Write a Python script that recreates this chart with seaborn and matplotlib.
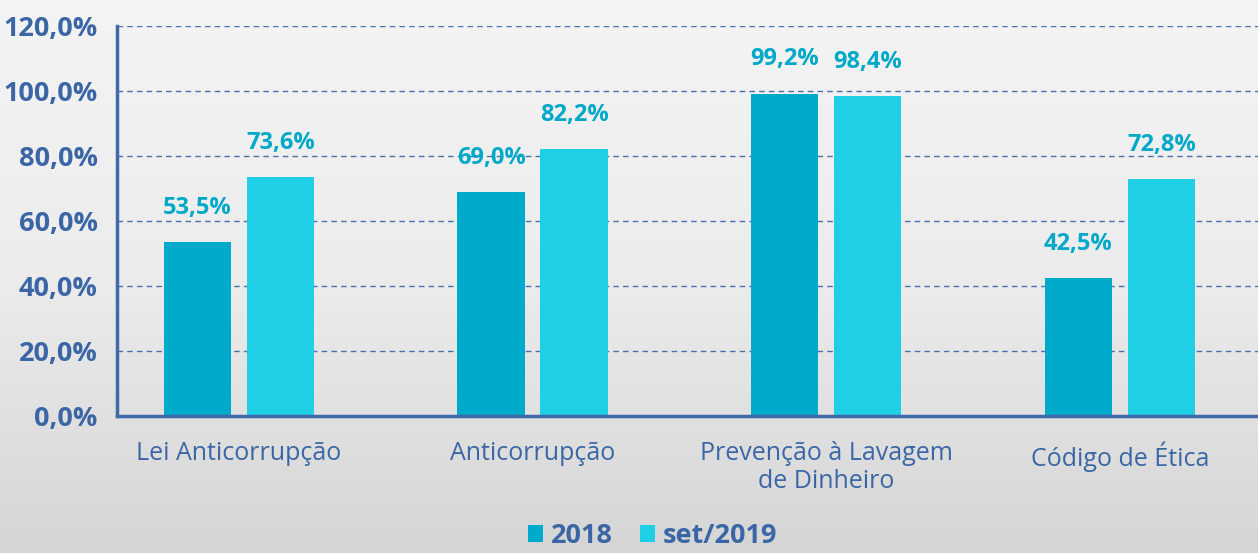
import numpy as np
import pandas as pd
import matplotlib
matplotlib.use("Agg")
import matplotlib.pyplot as plt
import seaborn as sns
from matplotlib.colors import LinearSegmentedColormap

categories = ["Lei Anticorrupção", "Anticorrupção", "Prevenção à Lavagem\nde Dinheiro", "Código de Ética"]
series = ["2018", "set/2019"]
values_2018 = [53.5, 69.0, 99.2, 42.5]
values_2019 = [73.6, 82.2, 98.4, 72.8]
yticks = [0, 20, 40, 60, 80, 100, 120]

colors = {"2018": "#00AACB", "set/2019": "#1ECFE6"}
text_blue = "#3A66A6"
label_teal = "#00A9C9"

df = pd.DataFrame({
    "categoria": categories * 2,
    "serie": [series[0]] * 4 + [series[1]] * 4,
    "valor": values_2018 + values_2019,
})

sns.set_theme(style="white")
plt.rcParams["font.family"] = ["Open Sans", "DejaVu Sans"]

fig = plt.figure(figsize=(12.58, 5.53), dpi=100)
# background gradient
bg = fig.add_axes([0, 0, 1, 1], zorder=-10)
grad = np.linspace(0, 1, 256).reshape(-1, 1)
cmap = LinearSegmentedColormap.from_list("bg", ["#f4f4f4", "#ececec", "#d5d5d5"])
bg.imshow(grad, aspect="auto", cmap=cmap, extent=[0, 1, 0, 1])
bg.axis("off")

ax = fig.add_axes([117 / 1258, 1 - 416 / 553, 1 - 117 / 1258, 390 / 553])
ax.patch.set_alpha(0)

sns.barplot(data=df, x="categoria", y="valor", hue="serie", order=categories,
            hue_order=series, palette=colors, width=0.565, gap=0.19,
            saturation=1, ax=ax, legend=True, linewidth=0)

ax.set_ylim(0, 120)
ax.set_xlim(-0.415, 3.47)
ax.set_yticks(yticks)
ax.set_yticklabels([f"{v:.1f}".replace(".", ",") + "%" for v in yticks],
                   fontsize=19.5, fontweight="bold", color=text_blue)
ax.tick_params(axis="y", length=0, pad=14)
ax.tick_params(axis="x", length=0, pad=18, labelsize=18, labelcolor=text_blue)
for lbl in ax.get_xticklabels():
    lbl.set_color(text_blue)
    lbl.set_linespacing(1.15)
ax.set_xlabel("")
ax.set_ylabel("")

ax.yaxis.grid(True, linestyle=(0, (4, 3)), color="#4a70b0", linewidth=1)
ax.set_axisbelow(True)
for s in ["top", "right"]:
    ax.spines[s].set_visible(False)
for s in ["left", "bottom"]:
    ax.spines[s].set_color("#3F69A8")
    ax.spines[s].set_linewidth(2.5)

for cont in ax.containers:
    ax.bar_label(cont, labels=[f"{v:.1f}".replace(".", ",") + "%" for v in cont.datavalues],
                 padding=16, fontsize=17, fontweight="bold", color=label_teal)

leg = ax.get_legend()
leg.remove()
handles, labels = ax.get_legend_handles_labels()
fig.legend(handles[:2], series, loc="center", bbox_to_anchor=(0.519, 1 - 536 / 553),
           ncol=2, frameon=False, handlelength=0.55, handleheight=0.55,
           handletextpad=0.3, columnspacing=1.0, borderpad=0.2,
           prop={"size": 19.5, "weight": "bold"}, labelcolor=text_blue)

fig.savefig("out.png", dpi=100)
